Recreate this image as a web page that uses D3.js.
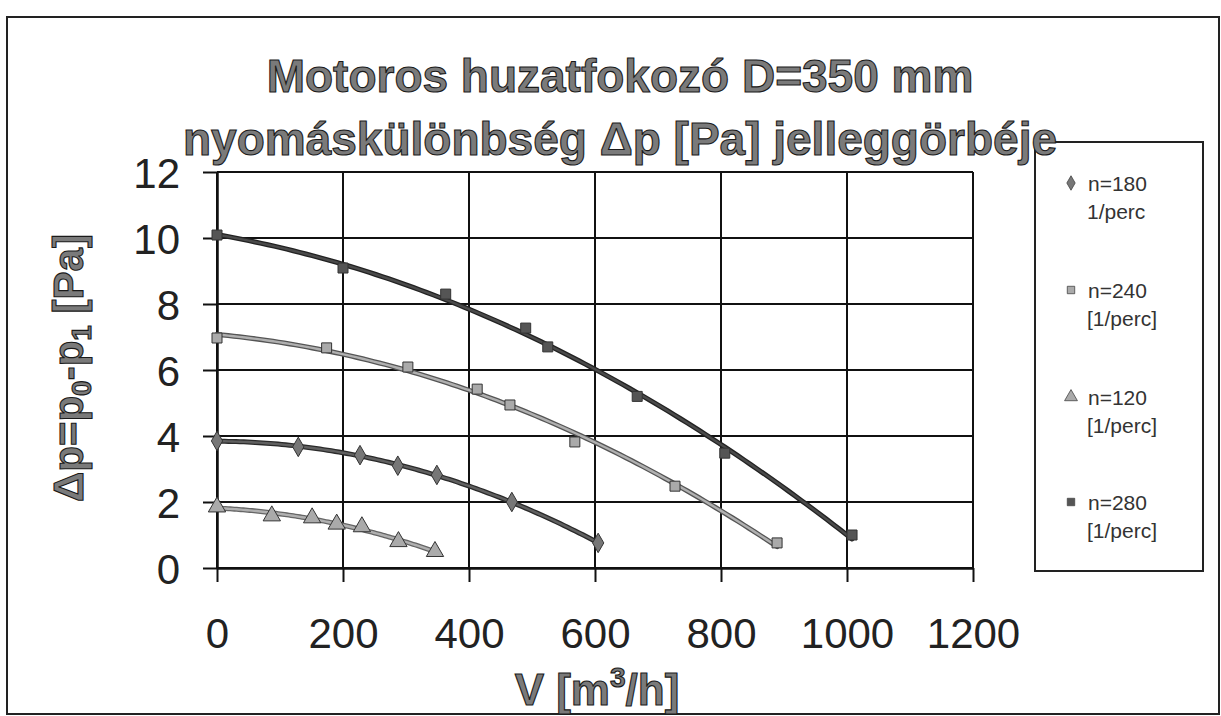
<!DOCTYPE html>
<html><head><meta charset="utf-8">
<script src="https://cdn.jsdelivr.net/npm/d3@7"></script>
<style>body{margin:0;background:#fff} svg{display:block}</style>
</head><body>
<script>
// ---- data ----
const xTicks = [0, 200, 400, 600, 800, 1000, 1200];
const yTicks = [0, 2, 4, 6, 8, 10, 12];
const titleLines = ["Motoros huzatfokozó D=350 mm", "nyomáskülönbség Δp [Pa] jelleggörbéje"];
const seriesNames = ["n=180", "n=240", "n=120", "n=280"];
const seriesUnits = ["1/perc", "[1/perc]", "[1/perc]", "[1/perc]"];
const v180 = [0, 129, 227, 287, 349, 468, 605];
const p180 = [3.85, 3.67, 3.42, 3.10, 2.82, 2.00, 0.76];
const v240 = [0, 174, 303, 413, 465, 568, 727, 889];
const p240 = [6.97, 6.67, 6.09, 5.42, 4.94, 3.82, 2.48, 0.76];
const v120 = [0, 87, 151, 190, 230, 288, 346];
const p120 = [1.85, 1.58, 1.52, 1.33, 1.25, 0.80, 0.50];
const v280 = [0, 200, 363, 490, 525, 667, 806, 1008];
const p280 = [10.09, 9.09, 8.30, 7.27, 6.70, 5.20, 3.48, 1.00];

// ---- styles ----
const styles = {
  "n=180": {shape: "diamond", fill: "#777", outer: "#2a2a2a", inner: "#606060"},
  "n=240": {shape: "square", fill: "#aaa", outer: "#555", inner: "#b0b0b0"},
  "n=120": {shape: "triangle", fill: "#aaa", outer: "#666", inner: "#b0b0b0"},
  "n=280": {shape: "square", fill: "#555", outer: "#222", inner: "#4a4a4a"}
};
const seriesData = [
  {name: "n=180", v: v180, p: p180},
  {name: "n=240", v: v240, p: p240},
  {name: "n=120", v: v120, p: p120},
  {name: "n=280", v: v280, p: p280}
];

const W = 1221, H = 716;
const M = {left: 217, right: 973, top: 172, bottom: 568};
const svg = d3.select("body").append("svg").attr("width", W).attr("height", H);
const FONT = "'Liberation Sans', Arial, sans-serif";

const x = d3.scaleLinear().domain([0, 1200]).range([M.left, M.right]);
const y = d3.scaleLinear().domain([0, 12]).range([M.bottom, M.top]);

// outer frame
svg.append("rect").attr("x", 7).attr("y", 17).attr("width", 1212).attr("height", 697)
  .attr("fill", "none").attr("stroke", "#222").attr("stroke-width", 2);

// gridlines
svg.append("g").selectAll("line").data(yTicks).join("line")
  .attr("x1", M.left).attr("x2", M.right).attr("y1", d => y(d)).attr("y2", d => y(d))
  .attr("stroke", "#111").attr("stroke-width", 2);
svg.append("g").selectAll("line").data(xTicks).join("line")
  .attr("y1", M.top).attr("y2", M.bottom).attr("x1", d => x(d)).attr("x2", d => x(d))
  .attr("stroke", "#111").attr("stroke-width", 2);

// axes
const xAxis = svg.append("g").attr("transform", `translate(0,${M.bottom})`)
  .call(d3.axisBottom(x).tickValues(xTicks).tickFormat(d3.format("d")).tickSize(14).tickPadding(36).tickSizeOuter(0));
const yAxis = svg.append("g").attr("transform", `translate(${M.left},0)`)
  .call(d3.axisLeft(y).tickValues(yTicks).tickFormat(d3.format("d")).tickSize(14).tickPadding(23).tickSizeOuter(0));
[xAxis, yAxis].forEach(a => {
  a.select(".domain").attr("stroke", "#111").attr("stroke-width", 2.5);
  a.selectAll(".tick line").attr("stroke", "#111").attr("stroke-width", 2);
  a.selectAll(".tick text").attr("font-family", FONT).attr("font-size", 42).attr("fill", "#222");
});
yAxis.selectAll(".tick text").attr("dy", "0.36em");

// quadratic least-squares trendline (as the spreadsheet's trendline)
function quadFit(xs, ys) {
  const S = Array.from({length: 5}, (_, k) => d3.sum(xs, v => Math.pow(v, k)));
  const T = Array.from({length: 3}, (_, k) => d3.sum(xs, (v, i) => Math.pow(v, k) * ys[i]));
  const A = [[S[0], S[1], S[2], T[0]], [S[1], S[2], S[3], T[1]], [S[2], S[3], S[4], T[2]]];
  for (let i = 0; i < 3; i++) {
    for (let j = i + 1; j < 3; j++) {
      const f = A[j][i] / A[i][i];
      for (let k = i; k < 4; k++) A[j][k] -= f * A[i][k];
    }
  }
  const c = [0, 0, 0];
  for (let i = 2; i >= 0; i--) {
    let s = A[i][3];
    for (let k = i + 1; k < 3; k++) s -= A[i][k] * c[k];
    c[i] = s / A[i][i];
  }
  return v => c[0] + c[1] * v + c[2] * v * v;
}

const line = d3.line().x(d => x(d[0])).y(d => y(d[1]));
const lines = svg.append("g");
seriesData.forEach(s => {
  const f = quadFit(s.v, s.p);
  const vmax = d3.max(s.v);
  const pts = d3.range(0, 101).map(i => { const v = vmax * i / 100; return [v, f(v)]; });
  const st = styles[s.name];
  lines.append("path").attr("d", line(pts)).attr("fill", "none")
    .attr("stroke", st.outer).attr("stroke-width", 5).attr("stroke-linecap", "round");
  lines.append("path").attr("d", line(pts)).attr("fill", "none")
    .attr("stroke", st.inner).attr("stroke-width", 2.4).attr("stroke-linecap", "round");
});

const symType = {diamond: d3.symbolDiamond, square: d3.symbolSquare, triangle: d3.symbolTriangle};
const symSize = {diamond: 110, square: 100, triangle: 130};
const marks = svg.append("g");
seriesData.forEach(s => {
  const st = styles[s.name];
  marks.selectAll(null).data(s.v.map((v, i) => [v, s.p[i]])).join("path")
    .attr("transform", d => `translate(${x(d[0])},${y(d[1])})`)
    .attr("d", d3.symbol(symType[st.shape], symSize[st.shape]))
    .attr("fill", st.fill).attr("stroke", "#333").attr("stroke-width", 1);
});

// axis titles
svg.append("text").attr("x", 597).attr("y", 705).attr("text-anchor", "middle")
  .attr("font-family", FONT).attr("font-weight", "bold").attr("font-size", 44)
  .attr("fill", "#7a7a7a").attr("stroke", "#1a1a1a").attr("stroke-width", 1.1)
  .call(t => {
    t.append("tspan").text("V [m");
    t.append("tspan").attr("font-size", 28).attr("dy", -18).text("3");
    t.append("tspan").attr("dy", 18).text("/h]");
  });
svg.append("text").attr("transform", "translate(83,368) rotate(-90)").attr("text-anchor", "middle")
  .attr("font-family", FONT).attr("font-weight", "bold").attr("font-size", 42)
  .attr("fill", "#7a7a7a").attr("stroke", "#1a1a1a").attr("stroke-width", 1.1)
  .call(t => {
    t.append("tspan").text("Δp=p");
    t.append("tspan").attr("font-size", 28).attr("dy", 8).text("0");
    t.append("tspan").attr("dy", -8).text("-p");
    t.append("tspan").attr("font-size", 28).attr("dy", 8).text("1");
    t.append("tspan").attr("dy", -8).text(" [Pa]");
  });

// legend
svg.append("rect").attr("x", 1035).attr("y", 142).attr("width", 168).attr("height", 429)
  .attr("fill", "#fff").attr("stroke", "#222").attr("stroke-width", 2);
const legY = [183, 290, 397, 502];
const leg = svg.append("g").attr("font-family", FONT).attr("font-size", 21).attr("fill", "#333");
seriesNames.forEach((n, i) => {
  const st = styles[n];
  leg.append("path").attr("transform", `translate(1071,${legY[i]})`)
    .attr("d", d3.symbol(symType[st.shape], symSize[st.shape] * 0.55))
    .attr("fill", st.fill).attr("stroke", "#444").attr("stroke-width", 0.8);
  leg.append("text").attr("x", 1088).attr("y", legY[i]).attr("dy", "0.36em").text(n);
  leg.append("text").attr("x", 1087).attr("y", legY[i] + 28).attr("dy", "0.36em").text(seriesUnits[i]);
});

// title (drawn last, over the legend corner as in the reference)
const title = svg.append("g").attr("font-family", FONT).attr("font-weight", "bold")
  .attr("font-size", 46).attr("text-anchor", "middle")
  .attr("fill", "#7a7a7a").attr("stroke", "#1a1a1a").attr("stroke-width", 1.1);
title.selectAll("text").data(titleLines).join("text")
  .attr("x", 620).attr("y", (d, i) => 92 + i * 63).text(d => d);
</script>
</body></html>
